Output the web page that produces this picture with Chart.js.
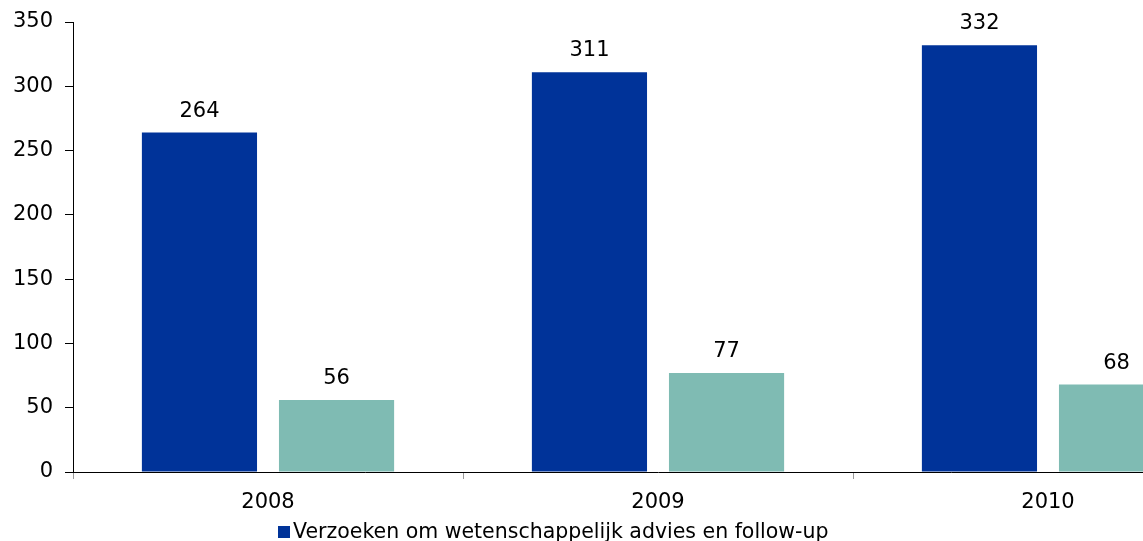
<!DOCTYPE html>
<html>
<head>
<meta charset="utf-8">
<script src="https://cdn.jsdelivr.net/npm/chart.js@4.4.1/dist/chart.umd.min.js"></script>
<style>
  html, body { margin: 0; padding: 0; background: #fff; overflow: hidden; }
  #wrap { position: relative; width: 1243px; height: 560px; }
  #legend {
    position: absolute; left: 278px; top: 519px;
    font-family: 'DejaVu Sans', Verdana, sans-serif; font-size: 20.5px; color: #000;
    white-space: nowrap;
  }
  #legend .box { display: inline-block; width: 12px; height: 12px; background: #003399; margin-right: 3px; }
</style>
</head>
<body>
<div id="wrap">
  <canvas id="chart" width="1243" height="560"></canvas>
  <div id="legend"><span class="box"></span><span id="legendText"></span></div>
</div>
<script>
// Chart data
const years = ['2008', '2009', '2010'];
const adviesValues = [264, 311, 332];
const otherValues = [56, 77, 68];
const adviesLabel = 'Verzoeken om wetenschappelijk advies en follow-up';
const yTicks = [0, 50, 100, 150, 200, 250, 300, 350];

const FONT = "'DejaVu Sans', Verdana, sans-serif";
document.getElementById('legendText').textContent = adviesLabel;

// Draw the value above each bar
const valueLabels = {
  id: 'valueLabels',
  afterDatasetsDraw(chart) {
    const ctx = chart.ctx;
    ctx.save();
    ctx.font = '21px ' + FONT;
    ctx.fillStyle = '#000';
    ctx.textAlign = 'center';
    ctx.textBaseline = 'alphabetic';
    chart.data.datasets.forEach((ds, i) => {
      chart.getDatasetMeta(i).data.forEach((bar, j) => {
        ctx.fillText(ds.data[j], bar.x, bar.y - 16);
      });
    });
    ctx.restore();
  },
};

const ctx = document.getElementById('chart').getContext('2d');
new Chart(ctx, {
  type: 'bar',
  data: {
    labels: years,
    datasets: [
      {
        label: adviesLabel,
        data: adviesValues,
        backgroundColor: '#003399',
        categoryPercentage: 0.703,
        barPercentage: 0.84,
      },
      {
        label: '',
        data: otherValues,
        backgroundColor: '#7fbbb3',
        categoryPercentage: 0.703,
        barPercentage: 0.84,
      },
    ],
  },
  options: {
    responsive: false,
    animation: false,
    layout: { padding: { top: 22, right: 0, bottom: 0, left: 0 } },
    scales: {
      x: {
        grid: { offset: true, drawOnChartArea: false, tickLength: 7, color: '#999' },
        border: { display: true, color: '#000', width: 1 },
        ticks: { color: '#000', font: { family: FONT, size: 21 }, padding: 11 },
        afterFit: (scale) => { scale.height = 560 - 472; },
      },
      y: {
        min: 0,
        max: 350,
        afterBuildTicks: (scale) => { scale.ticks = yTicks.map((v) => ({ value: v })); },
        grid: { drawOnChartArea: false, tickLength: 8, color: '#000' },
        border: { display: true, color: '#000', width: 1 },
        ticks: { color: '#000', font: { family: FONT, size: 21 }, padding: 12 },
        afterFit: (scale) => {
          scale.width = 73;
          scale.paddingTop = 0;
          scale.paddingBottom = 0;
        },
      },
    },
    plugins: {
      legend: { display: false },
      tooltip: { enabled: false },
    },
  },
  plugins: [valueLabels],
});
</script>
</body>
</html>
